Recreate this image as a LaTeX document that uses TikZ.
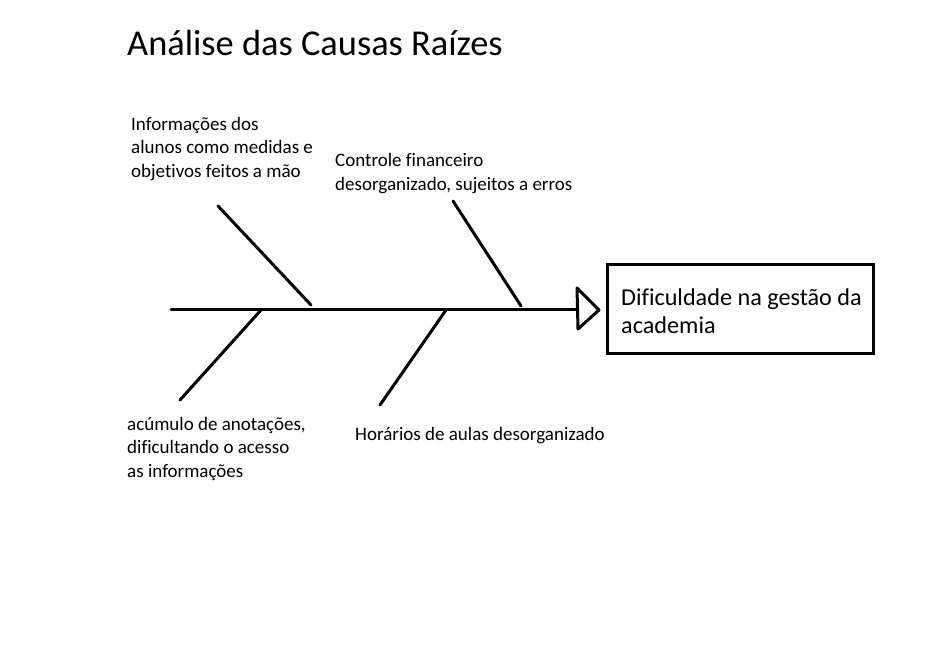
\documentclass[tikz,border=0pt]{standalone}
\usepackage{fontspec}
\setmainfont[Ligatures=NoCommon]{Carlito}
\begin{document}
\begin{tikzpicture}[x=1pt,y=-1pt,
  bone/.style={line width=3pt,line cap=round},
  lbl/.style={anchor=base west,inner sep=0pt,font=\fontsize{19}{23.5}\selectfont,align=left},
  ttl/.style={anchor=base west,inner sep=0pt,font=\fontsize{36.4}{40}\selectfont},
  effect/.style={draw,line width=3pt,minimum width=266pt,minimum height=89pt,anchor=north west,inner sep=0pt}]
\useasboundingbox (0,0) rectangle (936,656);
\fill[white] (0,0) rectangle (936,656);
\node[ttl] (title) at (127,55) {Análise das Causas Raízes};
% spine
\coordinate (tail) at (171,309);
\coordinate (head) at (577,309);
\draw[bone] (tail) -- (head);
% arrowhead
\coordinate (a1) at (577,288);
\coordinate (a2) at (599,310);
\coordinate (a3) at (578,329);
\draw[line width=3pt,line join=round] (a1) -- (a2) -- (a3) -- cycle;
% effect box
\node[effect] (box) at (606,263) {};
\node[lbl,font=\fontsize{24.2}{28}\selectfont] (efftxt) at (621,333) {Dificuldade na gestão da\\academia};
% bones
\coordinate (b1s) at (218,206); \coordinate (b1e) at (311,305);
\coordinate (b2s) at (453,201); \coordinate (b2e) at (521,306);
\coordinate (b3s) at (261,310); \coordinate (b3e) at (180,400);
\coordinate (b4s) at (446,310); \coordinate (b4e) at (380,405);
\draw[bone] (b1s) -- (b1e);
\draw[bone] (b2s) -- (b2e);
\draw[bone] (b3s) -- (b3e);
\draw[bone] (b4s) -- (b4e);
% labels (anchored at the baseline of the last line)
\node[lbl] (l1) at (131,177) {Informações dos\\alunos como medidas e\\objetivos feitos a mão};
\node[lbl] (l2) at (335,190) {Controle financeiro\\desorganizado, sujeitos a erros};
\node[lbl] (l3) at (127,477) {acúmulo de anotações,\\dificultando o acesso\\as informações};
\node[lbl] (l4) at (355,440) {Horários de aulas desorganizado};
\end{tikzpicture}
\end{document}
